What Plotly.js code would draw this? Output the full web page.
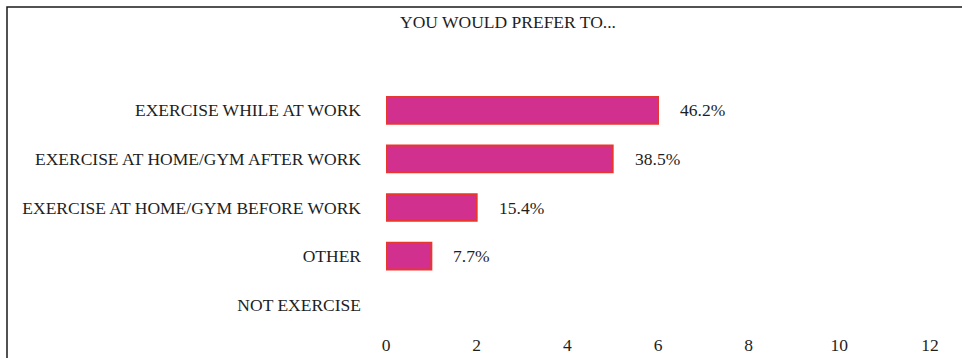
<!DOCTYPE html>
<html>
<head>
<meta charset="utf-8">
<script src="https://cdn.plot.ly/plotly-3.0.1.min.js"></script>
<style>
html,body{margin:0;padding:0;background:#fff;}
#chart{width:962px;height:358px;}
</style>
</head>
<body>
<div id="chart"></div>
<script>
const categories = ['EXERCISE WHILE AT WORK','EXERCISE AT HOME/GYM AFTER WORK','EXERCISE AT HOME/GYM BEFORE WORK','OTHER','NOT EXERCISE'];
const counts = [6, 5, 2, 1, 0];
const percentLabels = ['46.2%','38.5%','15.4%','7.7%',''];
const xTicks = [0, 2, 4, 6, 8, 10, 12];

const W = 962, H = 358;
const M = {l: 386, r: 32, t: 86, b: 29};
const pw = W - M.l - M.r, ph = H - M.t - M.b;
const font = {family: '"Liberation Serif", "Times New Roman", serif', size: 17.5, color: '#1e1e1e'};

const trace = {
  type: 'bar',
  orientation: 'h',
  y: categories,
  x: counts,
  width: 0.55,
  marker: {color: '#D2308F', line: {color: '#E8372F', width: counts.map(v => v > 0 ? 2 : 0)}},
  hoverinfo: 'none'
};

const annotations = categories.map((c, i) => ({
  x: counts[i], y: c, xref: 'x', yref: 'y',
  text: percentLabels[i], showarrow: false,
  xanchor: 'left', yanchor: 'middle', xshift: 20,
  font: font
})).filter(a => a.text !== '');

const borderX = (7 - M.l) / pw;
const borderY = 1 + (M.t - 7) / ph;
const shapes = [{
  type: 'path', xref: 'paper', yref: 'paper',
  path: `M ${borderX} ${-(M.b + 10) / ph} L ${borderX} ${borderY} L ${1 + (M.r + 10) / pw} ${borderY}`,
  line: {color: '#1a1a1a', width: 1.5}
}];

const layout = {
  width: W, height: H,
  margin: M,
  paper_bgcolor: '#fff', plot_bgcolor: '#fff',
  font: font,
  showlegend: false,
  title: {text: 'YOU WOULD PREFER TO...', font: font, x: 508 / W, xanchor: 'center', y: 1 - 22 / H, yanchor: 'middle', yref: 'container', xref: 'container'},
  xaxis: {range: [0, 12], tickvals: xTicks, ticktext: xTicks.map(String), showgrid: false, zeroline: false, showline: false, ticks: '', ticklabelstandoff: 3, tickfont: font, fixedrange: true},
  yaxis: {autorange: 'reversed', showgrid: false, zeroline: false, showline: false, ticks: '', ticklabelstandoff: 24, tickfont: font, fixedrange: true},
  annotations: annotations,
  shapes: shapes
};

Plotly.newPlot('chart', [trace], layout, {displayModeBar: false, staticPlot: true});
</script>
</body>
</html>
